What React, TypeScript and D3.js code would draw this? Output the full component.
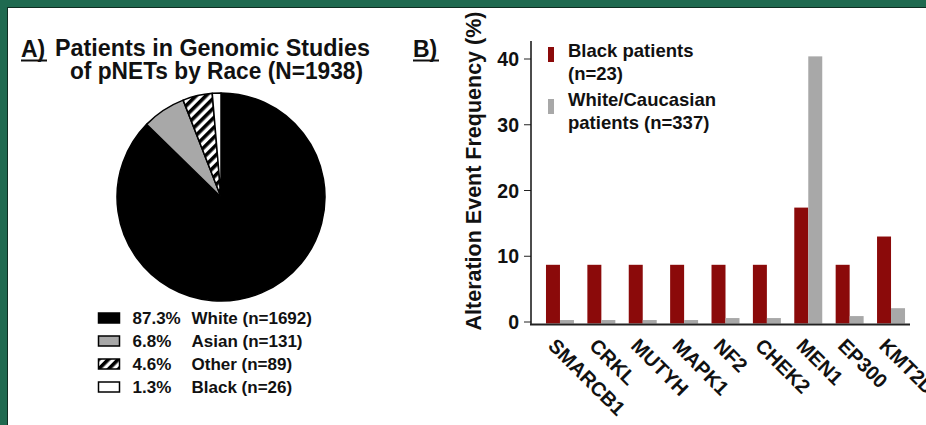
import React from 'react';
import * as d3 from 'd3';

const raceLabels = ['White', 'Asian', 'Other', 'Black'];
const raceCounts = [1692, 131, 89, 26];
const racePercents = ['87.3%', '6.8%', '4.6%', '1.3%'];

const genes = ['SMARCB1', 'CRKL', 'MUTYH', 'MAPK1', 'NF2', 'CHEK2', 'MEN1', 'EP300', 'KMT2D'];
const blackPatients = [8.7, 8.7, 8.7, 8.7, 8.7, 8.7, 17.4, 8.7, 13.0];
const whitePatients = [0.3, 0.3, 0.3, 0.3, 0.6, 0.6, 40.4, 0.9, 2.1];
const yTicks = [0, 10, 20, 30, 40];
const seriesNames = ['Black patients', 'White/Caucasian'];

const FONT = '"Liberation Sans", Arial, Helvetica, sans-serif';
const RED = '#8b0a0a';
const GRAY = '#a8a8a8';

export default function App() {
  const W = 926, H = 425;

  // Pie
  const pieCx = 221, pieCy = 197, pieR = 104;
  const pie = d3.pie<number>().sort(null).value((d) => d)(raceCounts);
  const arc = d3.arc<d3.PieArcDatum<number>>().innerRadius(0).outerRadius(pieR);
  const sliceFill = ['#000000', GRAY, 'url(#stripes)', '#ffffff'];

  // Bars
  const y = d3.scaleLinear().domain([0, 40]).range([322, 59]);
  const x = d3.scaleBand<string>().domain(genes).range([531, 920]).paddingInner(0.324).paddingOuter(0.362);
  const xs = d3.scaleBand<string>().domain(seriesNames).range([0, x.bandwidth()]);

  return (
    <div style={{ width: W, height: H, overflow: 'hidden', background: '#fff' }}>
      <style>{'html,body{margin:0;padding:0;overflow:hidden;background:#fff;}'}</style>
      <svg width={W} height={H} style={{ display: 'block' }} fontFamily={FONT}>
        <defs>
          <pattern id="stripes" patternUnits="userSpaceOnUse" width="7" height="7" patternTransform="rotate(45)">
            <rect width="7" height="7" fill="#fff" />
            <rect width="3.6" height="7" fill="#000" />
          </pattern>
        </defs>
        <rect x={0} y={0} width={W} height={H} fill="#ffffff" />
        <rect x={0} y={0} width={W} height={7} fill="#1f6a50" />
        <rect x={0} y={0} width={7} height={H} fill="#1f6a50" />
        <line x1={7} x2={W} y1={7.5} y2={7.5} stroke="#0e2e22" strokeWidth={1} />
        <line x1={7.5} x2={7.5} y1={7} y2={H} stroke="#0e2e22" strokeWidth={1} />

        {/* Panel A */}
        <text x={21} y={57} fontSize={23} fontWeight="bold" fill="#111">A)</text>
        <line x1={21} x2={47} y1={60.5} y2={60.5} stroke="#111" strokeWidth={2} />
        <text x={55} y={56} fontSize={23.5} fontWeight="bold" fill="#111" textLength={315} lengthAdjust="spacingAndGlyphs">Patients in Genomic Studies</text>
        <text x={70} y={79} fontSize={23.5} fontWeight="bold" fill="#111" textLength={293} lengthAdjust="spacingAndGlyphs">of pNETs by Race (N=1938)</text>

        <g transform={`translate(${pieCx},${pieCy})`}>
          {pie.map((d, i) => (
            <path key={i} d={arc(d) || ''} fill={sliceFill[i]} stroke="#000" strokeWidth={1.5} strokeLinejoin="round" />
          ))}
        </g>

        {raceLabels.map((lab, i) => {
          const cy = 318 + i * 23;
          return (
            <g key={lab}>
              <rect x={98.5} y={cy - 5} width={21} height={10} fill={sliceFill[i]} stroke="#000" strokeWidth={1.5} />
              <text x={132.5} y={cy + 6} fontSize={17} fontWeight="bold" fill="#111">{racePercents[i]}</text>
              <text x={191.5} y={cy + 6} fontSize={17} fontWeight="bold" fill="#111">{`${lab} (n=${raceCounts[i]})`}</text>
            </g>
          );
        })}

        {/* Panel B */}
        <text x={413} y={57} fontSize={23} fontWeight="bold" fill="#111">B)</text>
        <line x1={413} x2={439} y1={60.5} y2={60.5} stroke="#111" strokeWidth={2} />

        <text transform="translate(481,171) rotate(-90)" fontSize={21.5} fontWeight="bold" fill="#111" textAnchor="middle">
          Alteration Event Frequency (%)
        </text>

        {yTicks.map((t) => (
          <g key={t}>
            <line x1={524} x2={531} y1={y(t)} y2={y(t)} stroke="#222" strokeWidth={1} />
            <text x={519} y={y(t)} dy="0.36em" fontSize={19.5} fontWeight="bold" fill="#111" textAnchor="end">{t}</text>
          </g>
        ))}

        {genes.map((g, i) => (
          <g key={g} transform={`translate(${x(g)},0)`}>
            <rect x={xs(seriesNames[0])} y={y(blackPatients[i])} width={xs.bandwidth()} height={y(0) - y(blackPatients[i]) + 1.5} fill={RED} />
            <rect x={xs(seriesNames[1])} y={y(whitePatients[i])} width={xs.bandwidth()} height={y(0) - y(whitePatients[i]) + 1.5} fill={GRAY} />
          </g>
        ))}

        <line x1={531} x2={531} y1={41} y2={325} stroke="#111" strokeWidth={1.5} />
        <line x1={530} x2={910} y1={324.5} y2={324.5} stroke="#222" strokeWidth={2} />

        {genes.map((g) => (
          <text key={g} transform={`translate(${(x(g) || 0) + 1},347) rotate(45)`} fontSize={20} fontWeight="bold" fill="#111">{g}</text>
        ))}

        {/* Legend B */}
        <rect x={548} y={47} width={6} height={15} fill={RED} />
        <rect x={548} y={99} width={6} height={15} fill={GRAY} />
        <text x={568} y={57} fontSize={18.5} fontWeight="bold" fill="#111">Black patients</text>
        <text x={568} y={80} fontSize={18.5} fontWeight="bold" fill="#111">(n=23)</text>
        <text x={568} y={106} fontSize={18.5} fontWeight="bold" fill="#111">White/Caucasian</text>
        <text x={568} y={129} fontSize={18.5} fontWeight="bold" fill="#111">patients (n=337)</text>
      </svg>
    </div>
  );
}
